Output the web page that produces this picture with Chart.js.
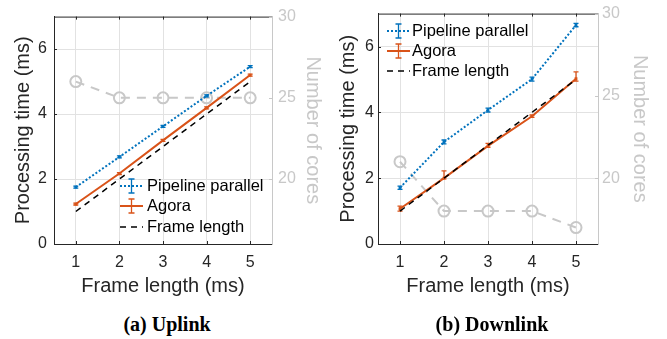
<!DOCTYPE html>
<html><head><meta charset="utf-8">
<script src="https://cdn.jsdelivr.net/npm/chart.js@4/dist/chart.umd.min.js"></script>
<style>
html,body{margin:0;padding:0;background:#fff;width:667px;height:339px;overflow:hidden;position:relative;}
#c1{position:absolute;left:0;top:0;}
#c2{position:absolute;left:324px;top:0;}
.cap{position:absolute;top:313px;font-family:"Liberation Serif","Times New Roman",serif;font-weight:bold;font-size:20px;color:#000;white-space:nowrap;transform:translateX(-50%);}
</style></head><body>
<canvas id="c1" width="333" height="300"></canvas>
<canvas id="c2" width="343" height="300"></canvas>
<div class="cap" style="left:167px">(a) Uplink</div>
<div class="cap" style="left:492px">(b) Downlink</div>
<script>
// ---------- data ----------
const frameLengths = [1, 2, 3, 4, 5];
const xTickLabels = ['1', '2', '3', '4', '5'];
const leftTicks = [0, 2, 4, 6];
const rightTicks = [20, 25, 30];

const upPipeline      = [1.75, 2.68, 3.62, 4.56, 5.46];
const upPipelineErrLo = [0.03, 0.03, 0.03, 0.03, 0.03];
const upPipelineErrHi = [0.03, 0.03, 0.03, 0.03, 0.03];
const upAgora         = [1.23, 2.17, 3.19, 4.19, 5.20];
const upAgoraErrLo    = [0.03, 0.03, 0.03, 0.03, 0.03];
const upAgoraErrHi    = [0.03, 0.03, 0.03, 0.03, 0.03];
const upFrame         = [1, 2, 3, 4, 5];
const upCores         = [26, 25, 25, 25, 25];

const downPipeline      = [1.71, 3.10, 4.07, 5.01, 6.65];
const downPipelineErrLo = [0.05, 0.06, 0.06, 0.06, 0.05];
const downPipelineErrHi = [0.05, 0.06, 0.06, 0.06, 0.05];
const downAgora         = [1.07, 2.00, 2.98, 3.88, 5.02];
const downAgoraErrLo    = [0.07, 0.02, 0.04, 0.03, 0.07];
const downAgoraErrHi    = [0.08, 0.22, 0.08, 0.04, 0.21];
const downFrame         = [1, 2, 3, 4, 5];
const downCores         = [21, 18, 18, 18, 17];

const legendLabels = ['Pipeline parallel', 'Agora', 'Frame length'];
const xTitle = 'Frame length (ms)';
const yTitle = 'Processing time (ms)';
const y2Title = 'Number of cores';

// ---------- styles ----------
const F = '"Liberation Sans", Arial, Helvetica, sans-serif';
const AX = '#262626';
const GRID = '#e2e2e2';
const GRAY = '#c8c8c8';
const BLUE = '#0072BD';
const ORANGE = '#D95319';

const pts = arr => arr.map((v, i) => ({x: frameLengths[i], y: v}));

const customPlugin = {
  id: 'custom',
  afterDatasetDraw(chart, args, opts) {
    const ds = chart.data.datasets[args.index];
    if (!ds.errLo) return;
    const ctx = chart.ctx, xs = chart.scales.x, ys = chart.scales[ds.yAxisID || 'y'];
    ctx.save();
    ctx.strokeStyle = ds.borderColor;
    ctx.lineWidth = 1.3;
    ctx.setLineDash([]);
    ds.data.forEach((p, i) => {
      const x = xs.getPixelForValue(p.x);
      const y1 = ys.getPixelForValue(p.y - ds.errLo[i]);
      const y2 = ys.getPixelForValue(p.y + ds.errHi[i]);
      ctx.beginPath();
      ctx.moveTo(x, y1); ctx.lineTo(x, y2);
      ctx.moveTo(x - 2.5, y1); ctx.lineTo(x + 2.5, y1);
      ctx.moveTo(x - 2.5, y2); ctx.lineTo(x + 2.5, y2);
      ctx.stroke();
    });
    ctx.restore();
  },
  afterDraw(chart, args, opts) {
    const ctx = chart.ctx, a = chart.chartArea;
    ctx.save();
    // top border
    ctx.strokeStyle = AX; ctx.lineWidth = 1;
    ctx.beginPath(); ctx.moveTo(a.left, a.top + 0.5); ctx.lineTo(a.right, a.top + 0.5); ctx.stroke();
    // inward tick marks
    const xs = chart.scales.x, yl = chart.scales.y, yr = chart.scales.y2;
    ctx.beginPath();
    xs.ticks.forEach(t => {
      const x = Math.round(xs.getPixelForValue(t.value)) + 0.5;
      ctx.moveTo(x, a.bottom); ctx.lineTo(x, a.bottom - 3);
      ctx.moveTo(x, a.top); ctx.lineTo(x, a.top + 3);
    });
    yl.ticks.forEach(t => {
      const y = Math.round(yl.getPixelForValue(t.value)) + 0.5;
      ctx.moveTo(a.left, y); ctx.lineTo(a.left + 3, y);
    });
    ctx.stroke();
    ctx.strokeStyle = GRAY;
    ctx.beginPath();
    yr.ticks.forEach(t => {
      const y = Math.round(yr.getPixelForValue(t.value)) + 0.5;
      ctx.moveTo(a.right, y); ctx.lineTo(a.right - 3, y);
    });
    ctx.stroke();
    // legend
    const L = opts.legend;
    ctx.font = '16.5px ' + F;
    ctx.textBaseline = 'middle';
    ctx.textAlign = 'left';
    L.items.forEach((it, i) => {
      const y = L.ys[i];
      ctx.strokeStyle = it.color;
      ctx.lineWidth = it.width;
      ctx.setLineDash(it.dash);
      ctx.beginPath(); ctx.moveTo(L.x0, y); ctx.lineTo(L.x1, y); ctx.stroke();
      ctx.setLineDash([]);
      if (it.err) {
        const xm = (L.x0 + L.x1) / 2;
        ctx.lineWidth = 1.3;
        ctx.beginPath();
        ctx.moveTo(xm, y - 7); ctx.lineTo(xm, y + 7);
        ctx.moveTo(xm - 3, y - 7); ctx.lineTo(xm + 3, y - 7);
        ctx.moveTo(xm - 3, y + 7); ctx.lineTo(xm + 3, y + 7);
        ctx.stroke();
      }
      ctx.fillStyle = '#000';
      ctx.fillText(it.label, L.tx, y);
    });
    ctx.restore();
  }
};

function makeChart(id, d, lay) {
  const legendItems = [
    {label: legendLabels[0], color: BLUE, dash: [2, 2], width: 2, err: true},
    {label: legendLabels[1], color: ORANGE, dash: [], width: 2, err: true},
    {label: legendLabels[2], color: '#000', dash: [6, 5], width: 1.5, err: false}
  ];
  return new Chart(document.getElementById(id), {
    type: 'line',
    data: {
      datasets: [
        {label: legendLabels[0], data: pts(d.pipe), errLo: d.pipeLo, errHi: d.pipeHi, yAxisID: 'y',
         borderColor: BLUE, backgroundColor: BLUE, borderWidth: 2, borderDash: [2, 2],
         pointStyle: 'rect', pointRadius: 2, pointBorderWidth: 0, pointBackgroundColor: BLUE, order: 0},
        {label: legendLabels[2], data: pts(d.frame), yAxisID: 'y',
         borderColor: '#000', borderWidth: 1.5, borderDash: [6, 5], pointRadius: 0, order: 1},
        {label: legendLabels[1], data: pts(d.agora), errLo: d.agoraLo, errHi: d.agoraHi, yAxisID: 'y',
         borderColor: ORANGE, backgroundColor: ORANGE, borderWidth: 2,
         pointStyle: 'rect', pointRadius: 2, pointBorderWidth: 0, pointBackgroundColor: ORANGE, order: 2},
        {label: y2Title, data: pts(d.cores), yAxisID: 'y2',
         borderColor: GRAY, borderWidth: 2, borderDash: [9, 7],
         pointStyle: 'circle', pointRadius: 5.5, pointBorderWidth: 2, pointBorderColor: GRAY,
         pointBackgroundColor: 'rgba(0,0,0,0)', order: 3}
      ]
    },
    options: {
      responsive: false, animation: false, devicePixelRatio: 1,
      layout: {padding: {top: 13, bottom: 0, left: 0, right: 0}},
      elements: {line: {tension: 0, fill: false}},
      plugins: {legend: {display: false}, tooltip: {enabled: false},
        custom: {legend: {items: legendItems, x0: lay.lx0, x1: lay.lx1, tx: lay.tx, ys: lay.lys}}},
      scales: {
        x: {type: 'linear', min: 0.5, max: 5.5,
          afterBuildTicks: s => { s.ticks = frameLengths.map(v => ({value: v})); },
          afterFit: s => { s.height = 56; },
          grid: {color: GRID, drawTicks: false},
          border: {color: AX, width: 1},
          ticks: {padding: 9, color: AX, font: {family: F, size: 16},
            callback: v => xTickLabels[frameLengths.indexOf(v)]},
          title: {display: true, text: xTitle, color: AX, font: {family: F, size: 20},
            padding: {top: 2, bottom: 2}}},
        y: {position: 'left', min: 0, max: 7,
          afterBuildTicks: s => { s.ticks = leftTicks.map(v => ({value: v})); },
          afterFit: s => { s.width = 54; },
          grid: {color: GRID, drawTicks: false},
          border: {color: AX, width: 1},
          ticks: {padding: lay.ylPad, color: AX, font: {family: F, size: 16}},
          title: {display: true, text: yTitle, color: AX, font: {family: F, size: 20},
            padding: {top: lay.ylTitle, bottom: lay.ylTitle}}},
        y2: {position: 'right', min: 16, max: 30,
          afterBuildTicks: s => { s.ticks = rightTicks.map(v => ({value: v})); },
          afterFit: s => { s.width = lay.rightW; },
          grid: {display: false, drawTicks: false},
          border: {color: GRAY, width: 1},
          ticks: {padding: lay.yrPad, color: GRAY, font: {family: F, size: 16}},
          title: {display: true, text: y2Title, color: GRAY, font: {family: F, size: 20},
            padding: {top: lay.yrTitle, bottom: lay.yrTitle}}}
      }
    },
    plugins: [customPlugin]
  });
}

makeChart('c1',
  {pipe: upPipeline, pipeLo: upPipelineErrLo, pipeHi: upPipelineErrHi,
   agora: upAgora, agoraLo: upAgoraErrLo, agoraHi: upAgoraErrHi,
   frame: upFrame, cores: upCores},
  {lx0: 120, lx1: 143, tx: 147, lys: [186, 206, 227],
   ylPad: 7, ylTitle: 11, rightW: 61, yrPad: 6, yrTitle: 8});

makeChart('c2',
  {pipe: downPipeline, pipeLo: downPipelineErrLo, pipeHi: downPipelineErrHi,
   agora: downAgora, agoraLo: downAgoraErrLo, agoraHi: downAgoraErrHi,
   frame: downFrame, cores: downCores},
  {lx0: 63, lx1: 86, tx: 88, lys: [31, 51, 71],
   ylPad: 4, ylTitle: 12, rightW: 69, yrPad: 4, yrTitle: 15});
</script>
</body></html>
